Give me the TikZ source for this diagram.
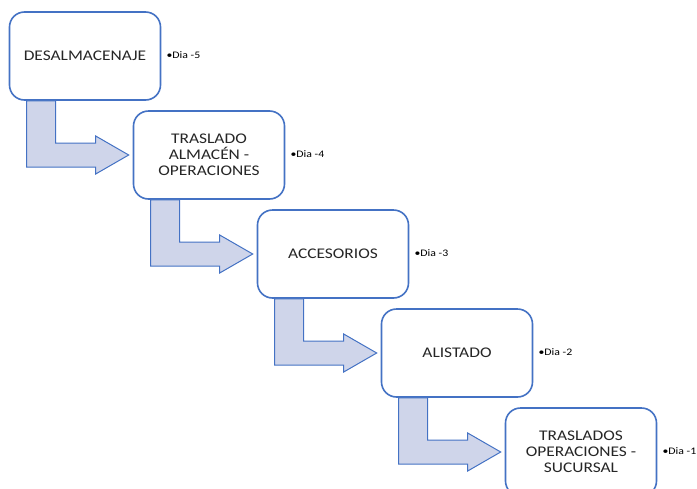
\documentclass[tikz,border=0pt]{standalone}
\usepackage{fontspec}
\setmainfont{Carlito}
\newfontfamily\widefont[FakeStretch=1.18]{Carlito}
\usetikzlibrary{calc}
\definecolor{edge}{RGB}{68,114,196}
\definecolor{pale}{RGB}{207,213,234}
\definecolor{ink}{RGB}{38,38,38}
\tikzset{
  stepbox/.style={draw=edge, line width=1.6pt, rounded corners=15pt, fill=white,
    minimum width=151pt, minimum height=88pt, align=center, inner sep=0pt,
    font=\widefont\fontsize{14.75}{15.8}\selectfont, text=ink},
  day/.style={anchor=west, inner sep=0pt, font=\widefont\fontsize{10}{11}\selectfont, text=black},
  bentarrow/.style={draw=edge, fill=pale, line width=1pt, line join=miter},
}
% bent block arrow from the bottom of one box to the left side of the next
\newcommand\bendarrow[2]{%
  \draw[bentarrow] let \p1=($(#1.south west)+(18,0)$), \p2=($(#2.west)+(-4,0)$) in
    (\x1,\y1) -- (\x1+29pt,\y1) -- (\x1+29pt,\y2+12pt) -- (\x2-33pt,\y2+12pt)
    -- (\x2-33pt,\y2+19pt) -- (\x2,\y2) -- (\x2-33pt,\y2-19pt) -- (\x2-33pt,\y2-12pt)
    -- (\x1,\y2-12pt) -- cycle;}
\begin{document}
\begin{tikzpicture}[x=1pt,y=-1pt]
\useasboundingbox (0,0) rectangle (697,488);
\clip (0,0) rectangle (697,488);
\node[stepbox] (b1) at (85,56)  {DESALMACENAJE};
\node[stepbox] (b2) at (209,155) {TRASLADO\\ALMACÉN -\\OPERACIONES};
\node[stepbox] (b3) at (333,254) {ACCESORIOS};
\node[stepbox] (b4) at (457,353) {ALISTADO};
\node[stepbox] (b5) at (581,452) {TRASLADOS\\OPERACIONES -\\SUCURSAL};
\node[day] (d1) at ($(b1.east)+(5,-1)$) {•Dia -5};
\node[day] (d2) at ($(b2.east)+(5,-1)$) {•Dia -4};
\node[day] (d3) at ($(b3.east)+(5,-1)$) {•Dia -3};
\node[day] (d4) at ($(b4.east)+(5,-1)$) {•Dia -2};
\node[day] (d5) at ($(b5.east)+(5,-1)$) {•Dia -1};
\bendarrow{b1}{b2}
\bendarrow{b2}{b3}
\bendarrow{b3}{b4}
\bendarrow{b4}{b5}
\end{tikzpicture}
\end{document}
